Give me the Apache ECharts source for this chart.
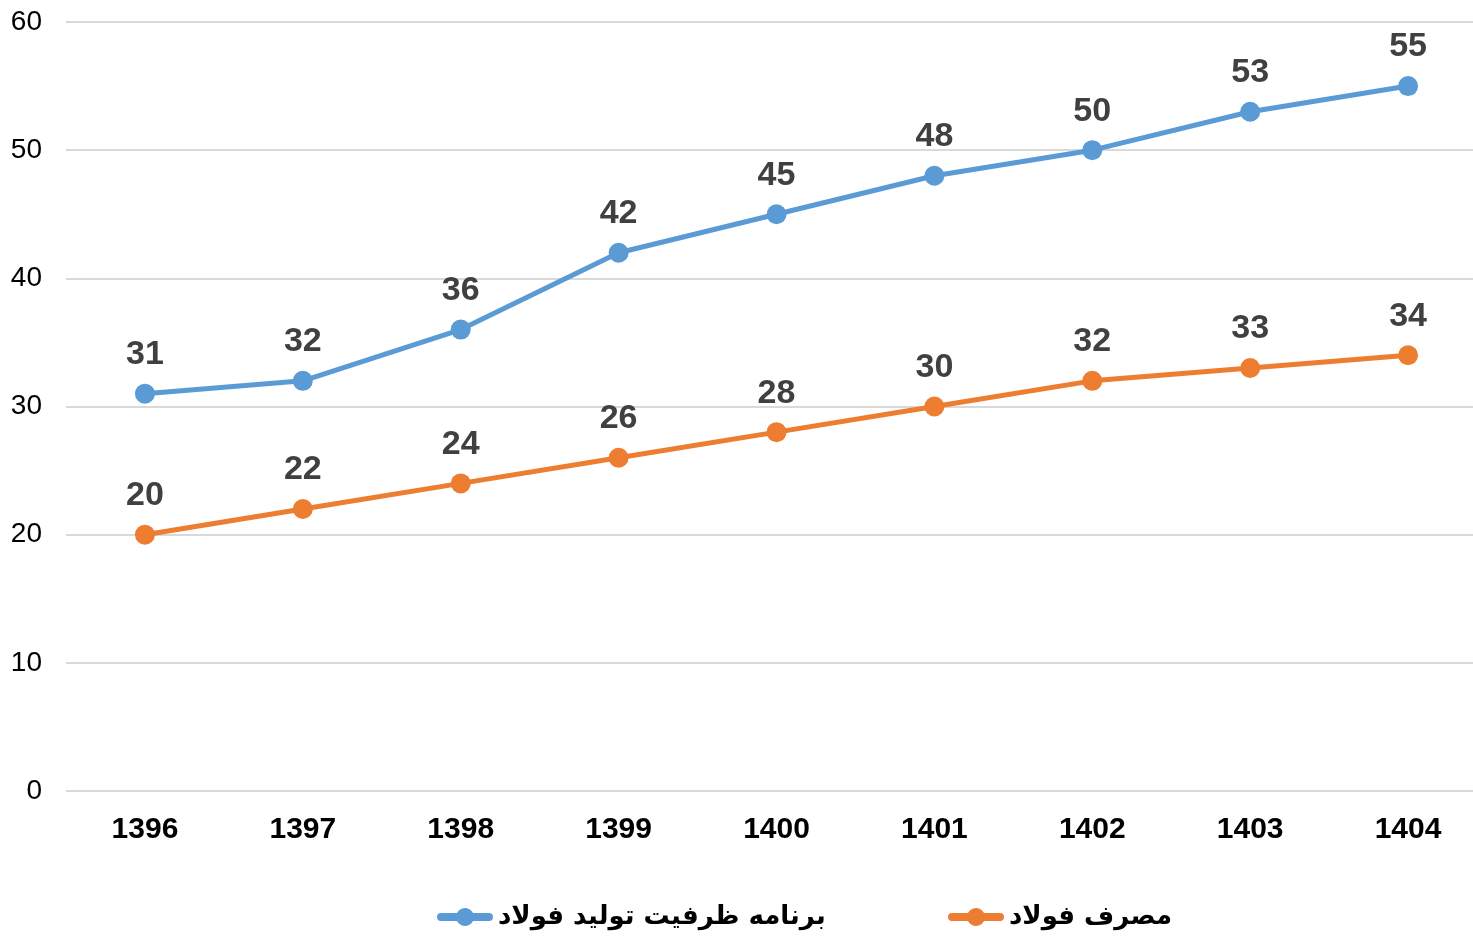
<!DOCTYPE html>
<html>
<head>
<meta charset="utf-8">
<script src="https://cdn.jsdelivr.net/npm/echarts@6/dist/echarts.min.js"></script>
<style>
    html, body { margin: 0; padding: 0; background: #fff; overflow: hidden; }
    #chart { width: 1487px; height: 941px; }
</style>
</head>
<body>
<div id="chart"></div>
<script>
    // داده‌ها
    var years = ['1396', '1397', '1398', '1399', '1400', '1401', '1402', '1403', '1404'];
    var capacityName = 'برنامه ظرفیت تولید فولاد';
    var capacity = [31, 32, 36, 42, 45, 48, 50, 53, 55];
    var consumeName = 'مصرف فولاد';
    var consume = [20, 22, 24, 26, 28, 30, 32, 33, 34];
    var yTicks = [0, 10, 20, 30, 40, 50, 60];

    var myChart = echarts.init(document.getElementById('chart'));

    // آیکون راهنما: خط ضخیم با دایره در وسط
    var legendIcon = 'path://M4,5 L19.94,5 A9,9 0 0 1 36.06,5 L52,5 A4,4 0 0 1 52,13 ' +
        'L36.06,13 A9,9 0 0 1 19.94,13 L4,13 A4,4 0 0 1 4,5 Z';

    var labelStyle = {
        show: true,
        position: 'top',
        distance: 12,
        fontSize: 34,
        fontWeight: 'bold',
        fontFamily: 'Liberation Sans, Arial',
        color: '#404040'
    };

    function makeLegend(name, left) {
        return {
            data: [{ name: name, icon: legendIcon }],
            left: left,
            top: 899,
            itemWidth: 56,
            itemHeight: 18,
            itemGap: 0,
            textStyle: {
                fontSize: 26,
                fontWeight: 'bold',
                fontFamily: 'DejaVu Sans',
                color: '#000'
            }
        };
    }

    var option = {
        animation: false,
        backgroundColor: '#fff',
        legend: [makeLegend(capacityName, 432), makeLegend(consumeName, 943)],
        grid: {
            left: 66,
            right: 0,
            top: 22,
            bottom: 150,
            containLabel: false
        },
        xAxis: {
            type: 'category',
            data: years,
            axisLine: { show: false },
            axisTick: { show: false },
            axisLabel: {
                margin: 24,
                fontSize: 30,
                fontWeight: 'bold',
                fontFamily: 'Liberation Sans, Arial',
                color: '#000'
            }
        },
        yAxis: {
            type: 'value',
            min: yTicks[0],
            max: yTicks[yTicks.length - 1],
            interval: 10,
            axisLine: { show: false },
            axisTick: { show: false },
            axisLabel: {
                margin: 24,
                fontSize: 28,
                fontFamily: 'Liberation Sans, Arial',
                color: '#000'
            },
            splitLine: { lineStyle: { color: '#d9d9d9', width: 2 } }
        },
        series: [{
            name: capacityName,
            type: 'line',
            data: capacity,
            symbol: 'circle',
            symbolSize: 20,
            itemStyle: { color: '#5B9BD5' },
            lineStyle: { color: '#5B9BD5', width: 5 },
            label: labelStyle
        }, {
            name: consumeName,
            type: 'line',
            data: consume,
            symbol: 'circle',
            symbolSize: 20,
            itemStyle: { color: '#ED7D31' },
            lineStyle: { color: '#ED7D31', width: 5 },
            label: labelStyle
        }]
    };

    myChart.setOption(option);
</script>
</body>
</html>
